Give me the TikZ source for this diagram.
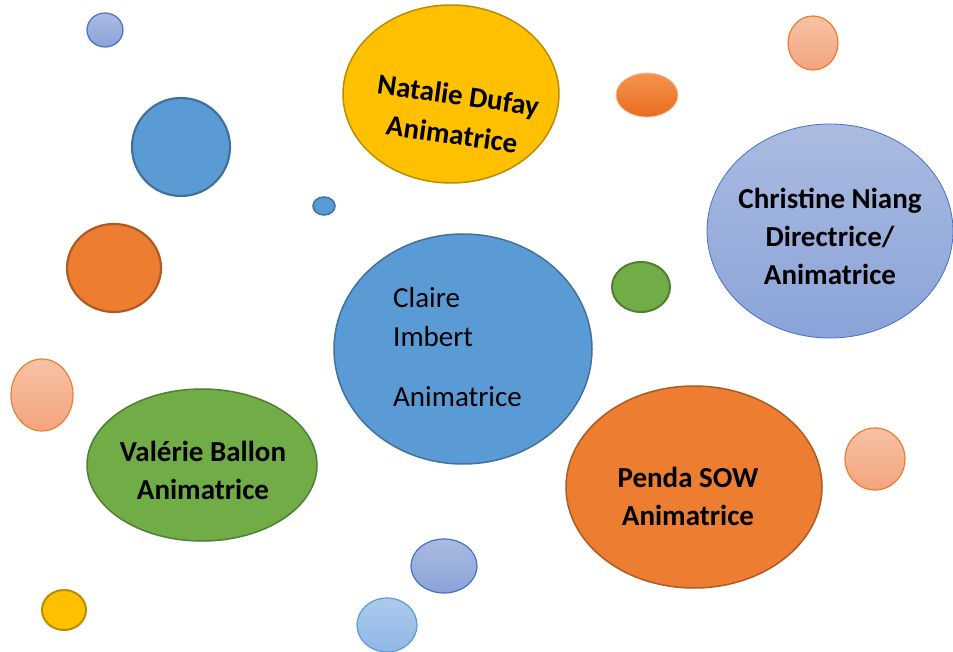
\documentclass[tikz,border=0pt]{standalone}
\usepackage{fontspec}
\setmainfont{Carlito}
\usetikzlibrary{shapes.geometric}
\definecolor{cblue}{HTML}{5B9BD5}
\definecolor{cblueb}{HTML}{41719C}
\definecolor{corange}{HTML}{ED7D31}
\definecolor{corangeb}{HTML}{AE5A21}
\definecolor{cyellow}{HTML}{FFC000}
\definecolor{cyellowb}{HTML}{BC8C00}
\definecolor{cgreen}{HTML}{70AD47}
\definecolor{cgreenb}{HTML}{507E32}
\definecolor{lavtop}{HTML}{ABBBE1}
\definecolor{lavbot}{HTML}{8AA3D8}
\definecolor{lavb}{HTML}{4472C4}
\definecolor{pinktop}{HTML}{F7C2A5}
\definecolor{pinkbot}{HTML}{F4A47F}
\definecolor{ordtop}{HTML}{F4944E}
\definecolor{ordbot}{HTML}{E96C1C}
\definecolor{lbtop}{HTML}{ADCAEC}
\definecolor{lbbot}{HTML}{8FB7E5}
\tikzset{
  bub/.style={ellipse, inner sep=0pt, minimum width=#1},
  solidblue/.style={fill=cblue, draw=cblueb},
  solidorange/.style={fill=corange, draw=corangeb},
  solidyellow/.style={fill=cyellow, draw=cyellowb},
  solidgreen/.style={fill=cgreen, draw=cgreenb},
  lav/.style={top color=lavtop, bottom color=lavbot, draw=lavb},
  pink/.style={top color=pinktop, bottom color=pinkbot, draw=corange},
  ordot/.style={top color=ordtop, bottom color=ordbot, draw=pinktop},
  lblue/.style={top color=lbtop, bottom color=lbbot, draw=cblue},
  btxt/.style={font=\fontsize{29}{38}\selectfont\bfseries, align=center, inner sep=0pt},
  rtxt/.style={font=\fontsize{29}{34}\selectfont, anchor=west, inner sep=0pt},
}
\begin{document}
\begin{tikzpicture}[x=1pt,y=-1pt]
\useasboundingbox (0,0) rectangle (953,652);
% small decorative bubbles
\node[bub=36pt, minimum height=34pt, lav, line width=1.2pt] (d1) at (105,30) {};
\node[bub=98pt, minimum height=98pt, solidblue, line width=2.2pt] (d2) at (181,147) {};
\node[bub=94pt, minimum height=88pt, solidorange, line width=2.2pt] (d3) at (114,268) {};
\node[bub=22pt, minimum height=18pt, solidblue, line width=1.5pt] (d4) at (324,206) {};
\node[bub=62pt, minimum height=44pt, ordot, line width=0.8pt] (d5) at (647,95) {};
\node[bub=50pt, minimum height=54pt, pink, line width=1.2pt] (d6) at (813,43) {};
\node[bub=58pt, minimum height=50pt, solidgreen, line width=2pt] (d7) at (641,287) {};
\node[bub=62pt, minimum height=72pt, pink, line width=1.2pt] (d8) at (42,395) {};
\node[bub=60pt, minimum height=62pt, pink, line width=1.2pt] (d9) at (875,459) {};
\node[bub=44pt, minimum height=40pt, solidyellow, line width=2pt] (d10) at (64,610) {};
\node[bub=66pt, minimum height=54pt, lav, line width=1.2pt] (d11) at (444,566) {};
\node[bub=60pt, minimum height=54pt, lblue, line width=1.2pt] (d12) at (387,625) {};
% main bubbles
\node[bub=216pt, minimum height=178pt, solidyellow, line width=1.5pt] (natalie) at (451,94) {};
\node[bub=246pt, minimum height=214pt, lav, line width=0.8pt] (christine) at (830,231) {};
\node[bub=258pt, minimum height=230pt, solidblue, line width=1.5pt] (claire) at (463,349) {};
\node[bub=230pt, minimum height=152pt, solidgreen, line width=1.5pt] (valerie) at (202,465) {};
\node[bub=256pt, minimum height=202pt, solidorange, line width=1.5pt] (penda) at (694,487) {};
% texts
\node[btxt, rotate=-8] (tnatalie1) at (458,97) {Natalie Dufay};
\node[btxt, rotate=-8] (tnatalie2) at (452,134) {Animatrice};
\node[btxt] (tchristine) at (830,236) {Christine Niang\\Directrice/\\Animatrice};
\node[btxt] (tvalerie) at (203,470) {Valérie Ballon\\Animatrice};
\node[btxt] (tpenda) at (688,496) {Penda SOW\\Animatrice};
\node[rtxt] (tc1) at (393,298) {Claire};
\node[rtxt] (tc2) at (393,337) {Imbert};
\node[rtxt] (tc3) at (393,397) {Animatrice};
\end{tikzpicture}
\end{document}
